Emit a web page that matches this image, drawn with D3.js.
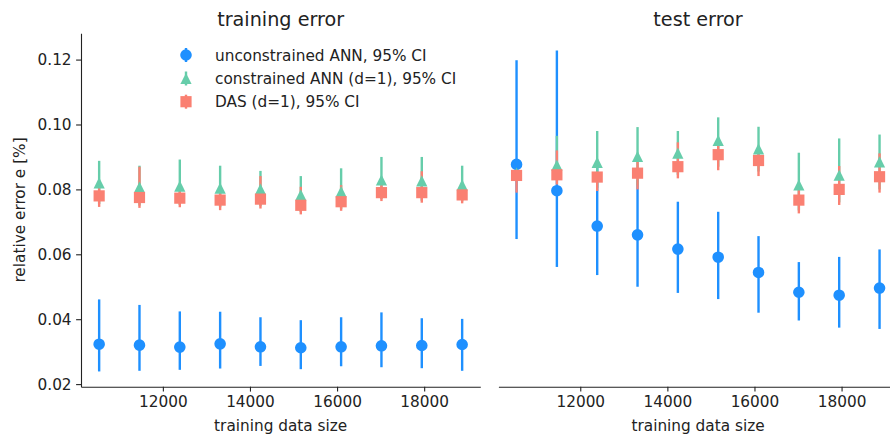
<!DOCTYPE html>
<html>
<head>
<meta charset="utf-8">
<script src="https://cdn.jsdelivr.net/npm/d3@7"></script>
<style>
  html, body { margin: 0; padding: 0; background: #fff; }
  svg { display: block; font-family: "DejaVu Sans", sans-serif; }
</style>
</head>
<body>
<svg id="chart" width="890" height="439"></svg>
<script>
// ---------- data ----------
const sizes = [10537, 11463, 12389, 13315, 14241, 15167, 16093, 17019, 17945, 18872];

// training error
const unconMeanTrain = [0.0323, 0.0320, 0.0314, 0.0324, 0.0315, 0.0312, 0.0315, 0.0318, 0.0319, 0.0322];
const unconLoTrain   = [0.0239, 0.0241, 0.0244, 0.0248, 0.0256, 0.0246, 0.0255, 0.0252, 0.0249, 0.0241];
const unconHiTrain   = [0.0461, 0.0444, 0.0424, 0.0423, 0.0406, 0.0397, 0.0406, 0.0421, 0.0403, 0.0401];
const conMeanTrain   = [0.0820, 0.0807, 0.0810, 0.0804, 0.0801, 0.0783, 0.0793, 0.0829, 0.0826, 0.0814];
const conLoTrain     = [0.0755, 0.0750, 0.0752, 0.0745, 0.0748, 0.0730, 0.0740, 0.0770, 0.0765, 0.0763];
const conHiTrain     = [0.0888, 0.0873, 0.0892, 0.0873, 0.0857, 0.0841, 0.0865, 0.0900, 0.0900, 0.0873];
const dasMeanTrain   = [0.0780, 0.0775, 0.0773, 0.0767, 0.0770, 0.0751, 0.0762, 0.0790, 0.0790, 0.0783];
const dasLoTrain     = [0.0746, 0.0743, 0.0745, 0.0736, 0.0741, 0.0723, 0.0734, 0.0764, 0.0759, 0.0757];
const dasHiTrain     = [0.0810, 0.0870, 0.0805, 0.0800, 0.0841, 0.0808, 0.0813, 0.0815, 0.0856, 0.0810];

// test error
const unconMeanTest = [0.0877, 0.0796, 0.0687, 0.0660, 0.0616, 0.0591, 0.0544, 0.0483, 0.0474, 0.0496];
const unconLoTest   = [0.0647, 0.0561, 0.0536, 0.0500, 0.0481, 0.0462, 0.0420, 0.0396, 0.0374, 0.0370];
const unconHiTest   = [0.1198, 0.1228, 0.0880, 0.0830, 0.0762, 0.0731, 0.0656, 0.0576, 0.0592, 0.0615];
const conMeanTest   = [0.0850, 0.0875, 0.0883, 0.0902, 0.0912, 0.0951, 0.0925, 0.0814, 0.0844, 0.0885];
const conLoTest     = [0.0830, 0.0830, 0.0805, 0.0812, 0.0845, 0.0870, 0.0855, 0.0735, 0.0760, 0.0800];
const conHiTest     = [0.0865, 0.0965, 0.0980, 0.0992, 0.0980, 0.1022, 0.0993, 0.0913, 0.0957, 0.0969];
const dasMeanTest   = [0.0843, 0.0845, 0.0838, 0.0850, 0.0870, 0.0907, 0.0889, 0.0767, 0.0800, 0.0839];
const dasLoTest     = [0.0790, 0.0815, 0.0795, 0.0800, 0.0834, 0.0859, 0.0841, 0.0726, 0.0752, 0.0790];
const dasHiTest     = [0.0885, 0.0920, 0.0852, 0.0890, 0.0945, 0.0940, 0.0915, 0.0810, 0.0872, 0.0911];

const xTicks = [12000, 14000, 16000, 18000];
const yTicks = [0.02, 0.04, 0.06, 0.08, 0.10, 0.12];
const seriesNames = ["unconstrained ANN, 95% CI", "constrained ANN (d=1), 95% CI", "DAS (d=1), 95% CI"];
const panelTitles = ["training error", "test error"];

// ---------- styles ----------
const colors = ["#1E90FF", "#66CDAA", "#FA8072"];
const shapes = [d3.symbolCircle, d3.symbolTriangle, d3.symbolSquare];
const textColor = "#222";
const fontSize = 15.3;

const svg = d3.select("#chart");
const plotTop = 33.3, plotBottom = 386.7;

const y = d3.scaleLinear().domain([0.0192, 0.1281]).range([plotBottom, plotTop]);

const xExt = d3.extent(sizes);
const pad = (xExt[1] - xExt[0]) * 0.05;
const xDomain = [xExt[0] - pad, xExt[1] + pad];

const panels = [
  { x0: 81, x1: 480.3, title: panelTitles[0], showY: true,
    series: [
      { m: unconMeanTrain, lo: unconLoTrain, hi: unconHiTrain },
      { m: conMeanTrain, lo: conLoTrain, hi: conHiTrain },
      { m: dasMeanTrain, lo: dasLoTrain, hi: dasHiTrain } ] },
  { x0: 498.4, x1: 897.7, title: panelTitles[1], showY: false,
    series: [
      { m: unconMeanTest, lo: unconLoTest, hi: unconHiTest },
      { m: conMeanTest, lo: conLoTest, hi: conHiTest },
      { m: dasMeanTest, lo: dasLoTest, hi: dasHiTest } ] }
];

function markerPath(shape) {
  if (shape === d3.symbolTriangle) {
    const h = 5.6;
    return `M0,${-h}L${h},${h}L${-h},${h}Z`;
  }
  if (shape === d3.symbolCircle) return d3.symbol().type(shape).size(Math.PI * 5.8 * 5.8)();
  return d3.symbol().type(shape).size(11.2 * 11.2)();
}

panels.forEach(p => {
  const x = d3.scaleLinear().domain(xDomain).range([p.x0, p.x1]);
  const g = svg.append("g");

  const xAxis = d3.axisBottom(x).tickValues(xTicks).tickFormat(d3.format("d"))
    .tickSizeInner(4.9).tickSizeOuter(0).tickPadding(4.5);
  const gx = g.append("g").attr("transform", `translate(0,${plotBottom})`).call(xAxis);
  gx.select(".domain").attr("stroke", textColor).attr("stroke-width", 1.1);
  gx.selectAll(".tick line").attr("stroke", textColor).attr("stroke-width", 1.1);
  gx.selectAll(".tick text").attr("fill", textColor).attr("font-size", fontSize)
    .attr("font-family", "DejaVu Sans");

  if (p.showY) {
    const yAxis = d3.axisLeft(y).tickValues(yTicks).tickFormat(d3.format(".2f"))
      .tickSizeInner(4.9).tickSizeOuter(0).tickPadding(4.5);
    const gy = g.append("g").attr("transform", `translate(${p.x0},0)`).call(yAxis);
    gy.select(".domain").attr("stroke", textColor).attr("stroke-width", 1.1);
    gy.selectAll(".tick line").attr("stroke", textColor).attr("stroke-width", 1.1);
    gy.selectAll(".tick text").attr("fill", textColor).attr("font-size", fontSize)
      .attr("font-family", "DejaVu Sans");
    g.append("text")
      .attr("transform", `translate(25,${(plotTop + plotBottom) / 2}) rotate(-90)`)
      .attr("text-anchor", "middle")
      .attr("fill", textColor).attr("font-size", fontSize)
      .text("relative error e [%]");
  }

  g.append("text")
    .attr("x", (p.x0 + p.x1) / 2).attr("y", 431)
    .attr("text-anchor", "middle").attr("fill", textColor).attr("font-size", fontSize)
    .text("training data size");

  g.append("text")
    .attr("x", (p.x0 + p.x1) / 2).attr("y", 25.5)
    .attr("text-anchor", "middle").attr("fill", textColor).attr("font-size", 19.2)
    .text(p.title);

  // error bars first (all series), then markers
  p.series.forEach((s, si) => {
    g.append("g").selectAll("line").data(sizes).join("line")
      .attr("x1", (d) => x(d)).attr("x2", (d) => x(d))
      .attr("y1", (d, i) => y(s.lo[i])).attr("y2", (d, i) => y(s.hi[i]))
      .attr("stroke", colors[si]).attr("stroke-width", 2.4);
  });
  p.series.forEach((s, si) => {
    g.append("g").selectAll("path").data(sizes).join("path")
      .attr("d", markerPath(shapes[si]))
      .attr("transform", (d, i) => `translate(${x(d)},${y(s.m[i])})`)
      .attr("fill", colors[si]);
  });
});

// legend
const legX = 186, legTextX = 215;
const legY = [55, 78.5, 101.7];
const leg = svg.append("g");
seriesNames.forEach((name, i) => {
  leg.append("line")
    .attr("x1", legX).attr("x2", legX)
    .attr("y1", legY[i] - 7).attr("y2", legY[i] + 7)
    .attr("stroke", colors[i]).attr("stroke-width", 2.4);
  leg.append("path")
    .attr("d", markerPath(shapes[i]))
    .attr("transform", `translate(${legX},${legY[i]})`)
    .attr("fill", colors[i]);
  leg.append("text")
    .attr("x", legTextX).attr("y", legY[i] + 5.5)
    .attr("fill", textColor).attr("font-size", fontSize)
    .text(name);
});
</script>
</body>
</html>
